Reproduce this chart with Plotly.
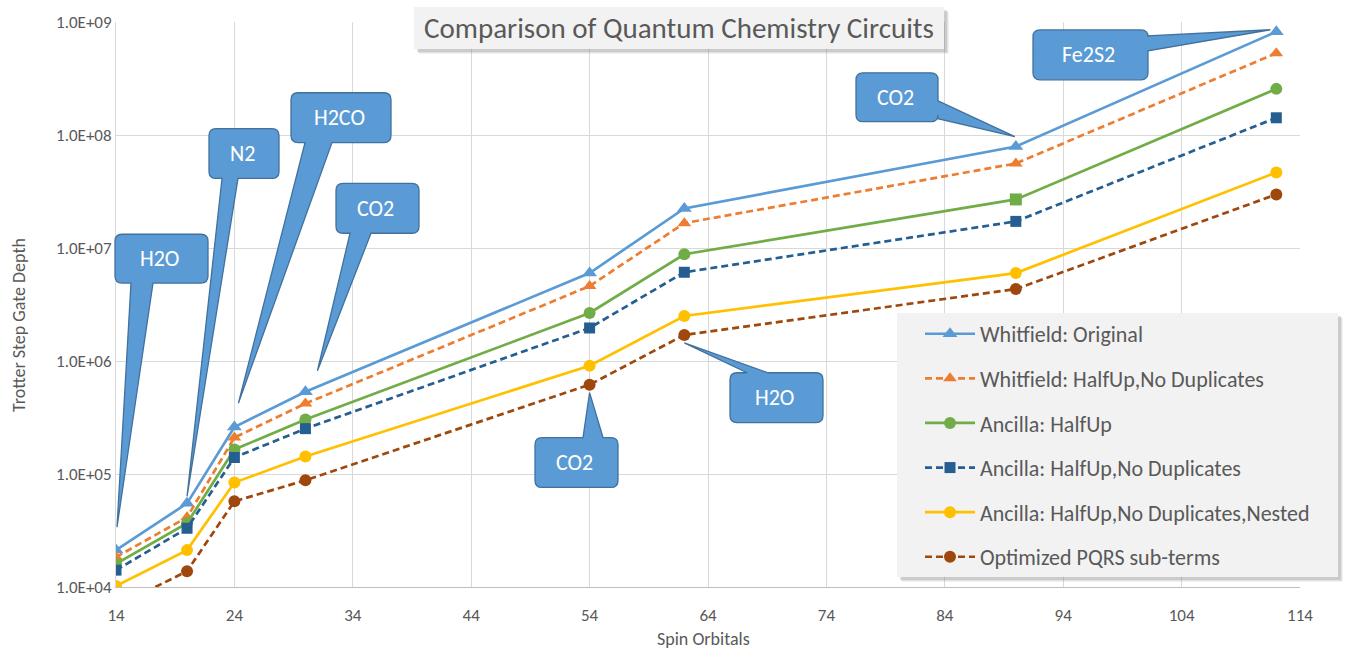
import math
import plotly.graph_objects as go

# ---------------- data ----------------
spin_orbitals = [14, 20, 24, 30, 54, 62, 90, 112]
whitfield_original = [21200, 55000, 260000, 535000, 6.0e6, 2.24e7, 7.9e7, 8.2e8]
whitfield_halfup_nodup = [18400, 41400, 210000, 420000, 4.6e6, 1.66e7, 5.6e7, 5.3e8]
ancilla_halfup = [16000, 36700, 165000, 303000, 2.66e6, 8.8e6, 2.69e7, 2.56e8]
ancilla_halfup_nodup = [14100, 33100, 140000, 252000, 1.96e6, 6.1e6, 1.72e7, 1.42e8]
ancilla_nested = [10200, 21200, 84000, 143000, 908000, 2.5e6, 6.0e6, 4.66e7]
optimized_pqrs = [6700, 13800, 57300, 88000, 617000, 1.70e6, 4.33e6, 2.98e7]

series_names = [
    "Whitfield: Original",
    "Whitfield: HalfUp,No Duplicates",
    "Ancilla: HalfUp",
    "Ancilla: HalfUp,No Duplicates",
    "Ancilla: HalfUp,No Duplicates,Nested",
    "Optimized PQRS sub-terms",
]
series_values = [whitfield_original, whitfield_halfup_nodup, ancilla_halfup,
                 ancilla_halfup_nodup, ancilla_nested, optimized_pqrs]

x_tick_values = [14, 24, 34, 44, 54, 64, 74, 84, 94, 104, 114]
y_tick_values = [1e4, 1e5, 1e6, 1e7, 1e8, 1e9]
y_tick_labels = ["1.0E+04", "1.0E+05", "1.0E+06", "1.0E+07", "1.0E+08", "1.0E+09"]

callout_labels = ["H2O", "N2", "H2CO", "CO2", "CO2", "H2O", "CO2", "Fe2S2"]
callout_series = [0, 0, 0, 0, 5, 5, 0, 0]
callout_point = [0, 1, 2, 3, 4, 5, 6, 7]

# ---------------- styles ----------------
colors = ["#5b9bd5", "#ed7d31", "#70ad47", "#255e91", "#ffc000", "#9e480e"]
dashes = ["solid", "7px,4px", "solid", "7px,4px", "solid", "7px,4px"]
symbols = [
    "triangle-up",
    "triangle-up",
    ["circle"] * 6 + ["square", "circle"],
    "square",
    "circle",
    "circle",
]
marker_sizes = [13, 12, 12, 11, 12, 12]
FONT = "Carlito, Calibri, Lato, sans-serif"
TXT = "#595959"

W, H = 1345, 652
ML, MR, MT, MB = 116, 45, 20, 65
PW, PH = W - ML - MR, H - MT - MB
XR = [14, 114]
YR = [4, 9]


def data_to_px(x, v):
    px = ML + (x - XR[0]) / (XR[1] - XR[0]) * PW
    py = MT + PH - (math.log10(v) - YR[0]) / (YR[1] - YR[0]) * PH
    return px, py


def px_to_paper(px, py):
    return (px - ML) / PW, (MT + PH - py) / PH


def path_from_px(cmds):
    out = []
    for c in cmds:
        s = c[0]
        for (px, py) in c[1:]:
            xp, yp = px_to_paper(px, py)
            s += " %.5f,%.5f" % (xp, yp)
        out.append(s)
    return " ".join(out) + " Z"


def callout_path(x0, y0, x1, y1, side, a, b, tip, r=7):
    c = [("M", (x0 + r, y0))]
    if side == "top":
        c += [("L", (a, y0)), ("L", tip), ("L", (b, y0))]
    c += [("L", (x1 - r, y0)), ("Q", (x1, y0), (x1, y0 + r))]
    if side == "right":
        c += [("L", (x1, a)), ("L", tip), ("L", (x1, b))]
    c += [("L", (x1, y1 - r)), ("Q", (x1, y1), (x1 - r, y1))]
    if side == "bottom":
        c += [("L", (b, y1)), ("L", tip), ("L", (a, y1))]
    c += [("L", (x0 + r, y1)), ("Q", (x0, y1), (x0, y1 - r))]
    if side == "left":
        c += [("L", (x0, b)), ("L", tip), ("L", (x0, a))]
    c += [("L", (x0, y0 + r)), ("Q", (x0, y0), (x0 + r, y0))]
    return path_from_px(c)


# box (x0,y0,x1,y1) in px, pointer side, base segment, tip offset from the data point
callout_boxes = [
    (115, 233, 208, 282, "bottom", 131, 153, (1, -23)),
    (209, 127, 279, 177, "bottom", 222, 238, (0, -7)),
    (291, 91, 391, 141, "bottom", 305, 332, (4, -24)),
    (336, 182, 419, 232, "bottom", 350, 371, (12, -21)),
    (535, 437, 618, 487, "top", 583, 603, (0, 8)),
    (730, 372, 823, 422, "top", 747, 768, (0, 8)),
    (856, 71, 938, 120, "right", 99, 117, (-1, -10)),
    (1033, 28, 1148, 78, "right", 34, 49, (-6, -2)),
]

fig = go.Figure()
for i, (name, vals) in enumerate(zip(series_names, series_values)):
    fig.add_trace(go.Scatter(
        x=spin_orbitals, y=vals, name=name, mode="lines+markers",
        legendgroup="g%d" % i,
        line=dict(color=colors[i], width=2.7, dash=dashes[i]),
        marker=dict(color=colors[i], symbol=symbols[i], size=marker_sizes[i],
                    line=dict(width=0)),
    ))

shapes = []
annotations = []


def rect_px(x0, y0, x1, y1, fill, line_color=None, lw=0, opacity=1.0):
    a0 = px_to_paper(x0, y0)
    a1 = px_to_paper(x1, y1)
    return dict(type="rect", xref="paper", yref="paper", x0=a0[0], y0=a1[1],
                x1=a1[0], y1=a0[1], fillcolor=fill, opacity=opacity,
                line=dict(color=line_color or fill, width=lw), layer="above")


def text_px(text, px, py, size, color, angle=0):
    xp, yp = px_to_paper(px, py)
    return dict(text=text, xref="paper", yref="paper", x=xp, y=yp,
                xanchor="center", yanchor="middle", showarrow=False, textangle=angle,
                font=dict(family=FONT, size=size, color=color))


# title box with shadow
for k, op in [(5, 0.10), (4, 0.15), (3, 0.22)]:
    shapes.append(rect_px(414 + k, 5 + k, 944 + k, 47 + k, "#7f7f7f", opacity=op))
shapes.append(rect_px(414, 5, 944, 47, "#f2f2f2"))
annotations.append(text_px("Comparison of Quantum Chemistry Circuits", 679, 26, 29, TXT))

# axis titles
annotations.append(text_px("Spin Orbitals", 703, 639, 18, TXT))
annotations.append(text_px("Trotter Step Gate Depth", 19, 324, 18, TXT, angle=-90))

# legend box with shadow
for k, op in [(5, 0.10), (4, 0.15), (3, 0.22)]:
    shapes.append(rect_px(897 + k, 312 + k, 1338 + k, 577 + k, "#7f7f7f", opacity=op))
shapes.append(rect_px(897, 312, 1338, 577, "#f2f2f2"))

# callouts
for lab, si, pi, box in zip(callout_labels, callout_series, callout_point, callout_boxes):
    x0, y0, x1, y1, side, a, b, off = box
    px, py = data_to_px(spin_orbitals[pi], series_values[si][pi])
    tip = (px + off[0], py + off[1])
    shapes.append(dict(type="path", xref="paper", yref="paper",
                       path=callout_path(x0, y0, x1, y1, side, a, b, tip),
                       fillcolor="#5b9bd5", line=dict(color="#41719c", width=1.3),
                       layer="above"))
    annotations.append(text_px(lab, (x0 + x1) / 2 - 2, (y0 + y1) / 2, 22, "white"))

lx, ly = px_to_paper(920, 312)

fig.update_layout(
    width=W, height=H,
    margin=dict(l=ML, r=MR, t=MT, b=MB),
    paper_bgcolor="white", plot_bgcolor="white",
    font=dict(family=FONT, color=TXT),
    shapes=shapes, annotations=annotations,
    showlegend=True,
    legend=dict(x=lx, y=ly, xanchor="left", yanchor="top",
                bgcolor="rgba(0,0,0,0)", borderwidth=0,
                font=dict(family=FONT, size=22, color=TXT),
                tracegroupgap=13, itemwidth=50),
    xaxis=dict(range=XR, tickvals=x_tick_values, showgrid=True,
               gridcolor="#d9d9d9", gridwidth=1, showline=True,
               linecolor="#bfbfbf", linewidth=1.3, ticks="", zeroline=False,
               ticklabelstandoff=12,
               tickfont=dict(family=FONT, size=17, color=TXT)),
    yaxis=dict(type="log", range=YR, tickvals=y_tick_values, ticktext=y_tick_labels,
               showgrid=True, gridcolor="#d9d9d9", gridwidth=1, showline=True,
               linecolor="#d9d9d9", linewidth=1, ticks="", zeroline=False,
               tickfont=dict(family=FONT, size=17, color=TXT)),
)

fig.write_html("out.html", config={"displayModeBar": False},
               post_script="document.body.style.margin='0';document.body.style.overflow='hidden';")
